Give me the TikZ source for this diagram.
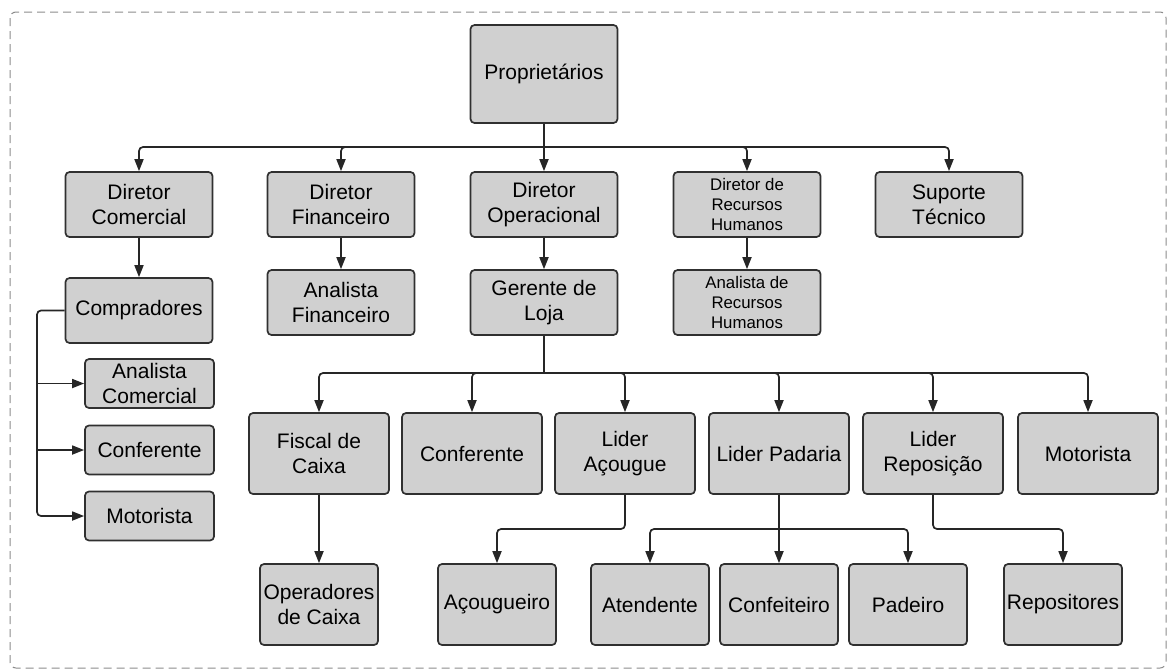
\documentclass[tikz,border=0pt]{standalone}
\usepackage{fontspec}
\setmainfont{Liberation Sans}
\usetikzlibrary{arrows.meta}
\definecolor{boxfill}{HTML}{D0D0D0}
\definecolor{boxline}{HTML}{303030}
\tikzstyle{cargo}    = [draw=boxline, fill=boxfill, line width=0.85pt, rounded corners=2pt, align=center, inner sep=0pt, font=\fontsize{10.5}{12.5}\selectfont]
\tikzstyle{cargopeq} = [cargo, font=\fontsize{8.4}{10}\selectfont]
\tikzstyle{largo}    = [minimum width=73.5pt, minimum height=32.5pt]
\tikzstyle{lateral}  = [minimum width=64.5pt, minimum height=24.5pt]
\tikzstyle{medio}    = [minimum width=70pt, minimum height=40.5pt]
\tikzstyle{curto}    = [minimum width=59pt, minimum height=40.5pt]
\tikzstyle{linha}    = [line width=0.85pt, draw=black!85, rounded corners=2pt]
\tikzstyle{seta}     = [linha, -{Triangle[length=6pt,width=4.5pt]}]

\begin{document}
\begin{tikzpicture}[x=0.5pt, y=-0.5pt]
        \useasboundingbox (0,0) rectangle (1173,670);
        \draw[draw=black!45, line width=0.5pt, dash pattern=on 4pt off 2.5pt, rounded corners=3pt] (10,12) rectangle (1166,668);

        % topo
        \node[cargo, minimum width=73.5pt, minimum height=49pt] (prop) at (544,74) {Proprietários};

        % diretoria
        \node[cargo, largo] (dcom) at (139,204.5) {Diretor\\Comercial};
        \node[cargo, largo] (dfin) at (341,204.5) {Diretor\\Financeiro};
        \node[cargo, largo] (dope) at (544,204.5) {Diretor\\Operacional};
        \node[cargopeq, largo] (drh) at (747,204.5) {Diretor de\\Recursos\\Humanos};
        \node[cargo, largo] (sup) at (949,204.5) {Suporte\\Técnico};

        \node[cargo, largo] (comp) at (139,310.5) {Compradores};
        \node[cargo, largo] (afin) at (341,302.5) {Analista\\Financeiro};
        \node[cargo, largo] (ger) at (544,302.5) {Gerente de\\Loja};
        \node[cargopeq, largo] (arh) at (747,302.5) {Analista de\\Recursos\\Humanos};

        % comercial
        \node[cargo, lateral] (acom) at (149.5,383.5) {Analista\\Comercial};
        \node[cargo, lateral] (conf1) at (149.5,450) {Conferente};
        \node[cargo, lateral] (mot1) at (149.5,516) {Motorista};

        % loja
        \node[cargo, medio] (fisc) at (319,453.5) {Fiscal de\\Caixa};
        \node[cargo, medio] (conf2) at (472,453.5) {Conferente};
        \node[cargo, medio] (lacou) at (625,453.5) {Lider\\Açougue};
        \node[cargo, medio] (lpad) at (779,453.5) {Lider Padaria};
        \node[cargo, medio] (lrep) at (933,453.5) {Lider\\Reposição};
        \node[cargo, medio] (mot2) at (1088,453.5) {Motorista};

        \node[cargo, curto] (oper) at (319,604.5) {Operadores\\de Caixa};
        \node[cargo, curto] (acoug) at (497,604.5) {Açougueiro};
        \node[cargo, curto] (atend) at (650,604.5) {Atendente};
        \node[cargo, curto] (confe) at (779,604.5) {Confeiteiro};
        \node[cargo, curto] (pad) at (908,604.5) {Padeiro};
        \node[cargo, curto] (repo) at (1063,604.5) {Repositores};

        % ligacoes
        \coordinate (bus1) at (544,147);
        \draw[linha] (prop) -- (bus1);
        \foreach \n in {dcom,dfin,dope,drh,sup}
            \draw[seta] (bus1) -| (\n.north);
        \draw[seta] (dcom) -- (comp);
        \draw[seta] (dfin) -- (afin);
        \draw[seta] (dope) -- (ger);
        \draw[seta] (drh) -- (arh);

        \coordinate (esq) at (37,310.5);
        \draw[seta] (comp.west) -- (esq) |- (mot1.west);
        \draw[seta] (esq |- acom.west) -- (acom.west);
        \draw[seta] (esq |- conf1.west) -- (conf1.west);

        \coordinate (bus2) at (544,373);
        \draw[linha] (ger) -- (bus2);
        \foreach \n in {fisc,conf2,lacou,lpad,lrep,mot2}
            \draw[seta] (bus2) -| (\n.north);

        \draw[seta] (fisc) -- (oper);
        \draw[seta] (lacou.south) |- (560,529) -| (acoug.north);
        \coordinate (bus3) at (779,529);
        \draw[linha] (lpad) -- (bus3);
        \foreach \n in {atend,confe,pad}
            \draw[seta] (bus3) -| (\n.north);
        \draw[seta] (lrep.south) |- (1000,529) -| (repo.north);
    \end{tikzpicture}
\end{document}
